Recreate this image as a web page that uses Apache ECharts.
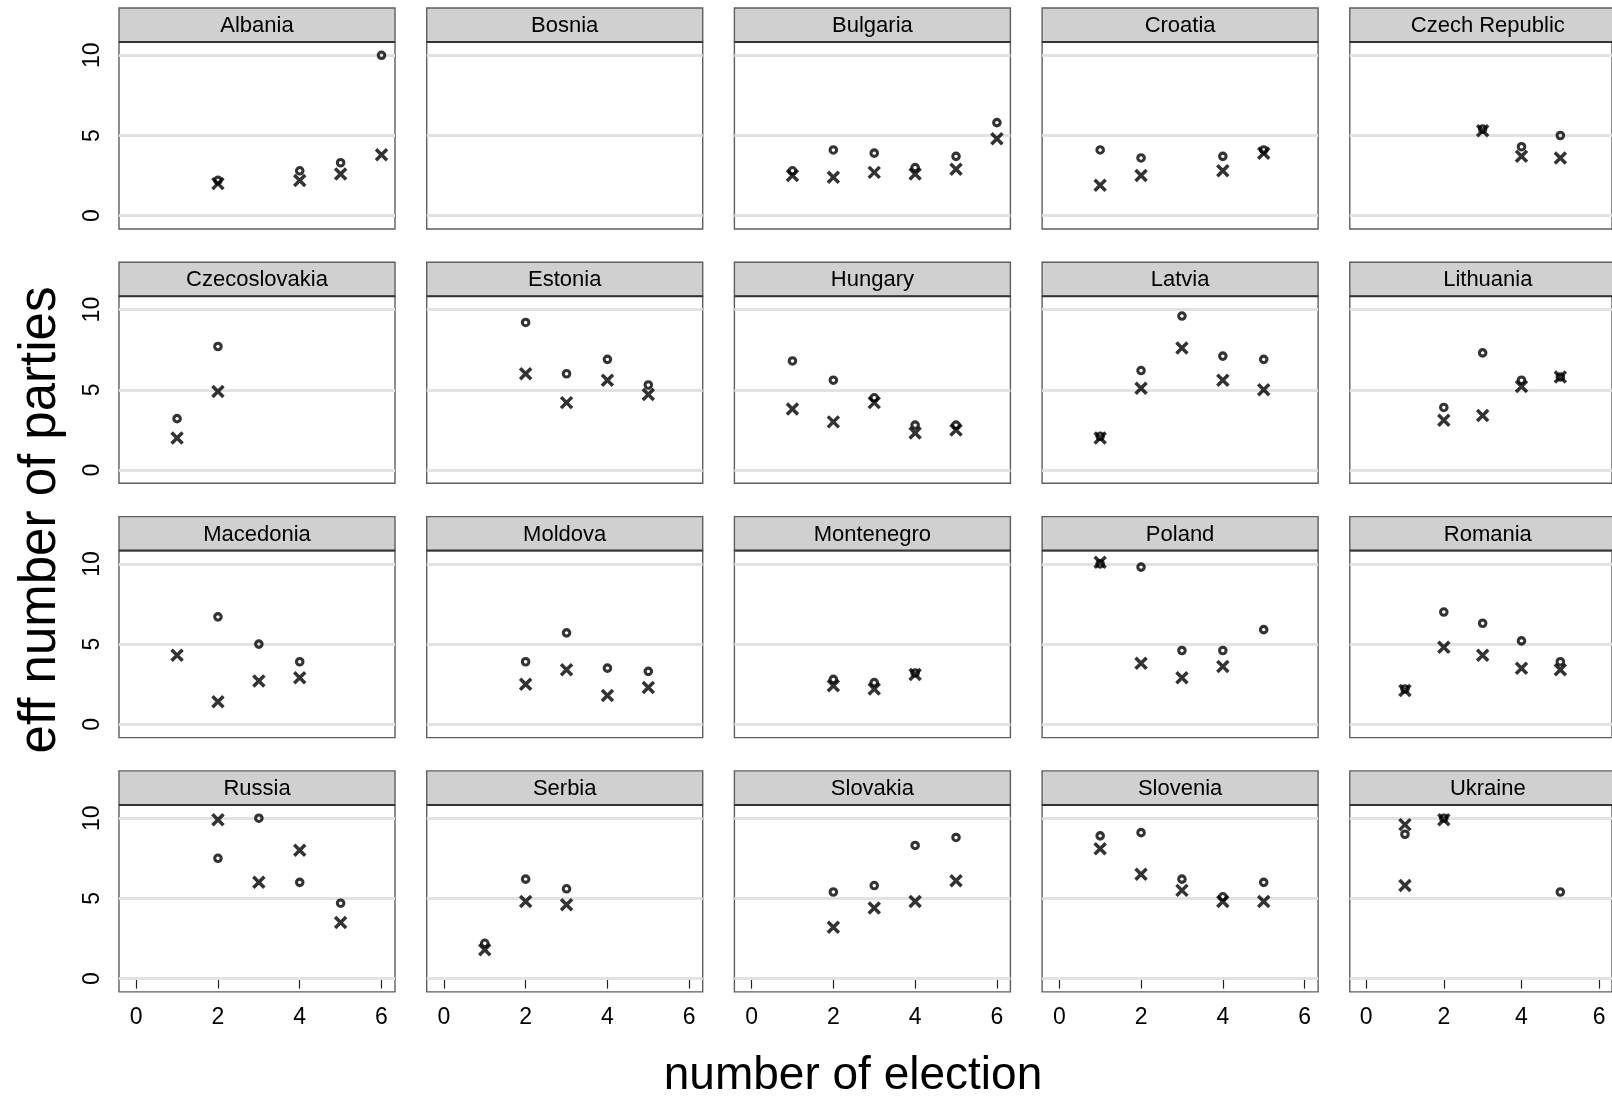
<!DOCTYPE html>
<html>
<head>
<meta charset="utf-8">
<script src="https://cdn.jsdelivr.net/npm/echarts@6/dist/echarts.min.js"></script>
<style>
html,body{margin:0;padding:0;background:#fff;}
#chart{width:1612px;height:1096px;}
</style>
</head>
<body>
<div id="chart"></div>
<script>
// ---- data ----
const countries = ["Albania","Bosnia","Bulgaria","Croatia","Czech Republic",
  "Czecoslovakia","Estonia","Hungary","Latvia","Lithuania",
  "Macedonia","Moldova","Montenegro","Poland","Romania",
  "Russia","Serbia","Slovakia","Slovenia","Ukraine"];
const xTicks = [0, 2, 4, 6];
const yTicks = [0, 5, 10];
// circles: [election number, value]
const circlePoints = [
  [[2,2.2],[4,2.8],[5,3.3],[6,10.0]],
  [],
  [[1,2.8],[2,4.1],[3,3.9],[4,3.0],[5,3.7],[6,5.8]],
  [[1,4.1],[2,3.6],[4,3.7],[5,4.1]],
  [[3,5.4],[4,4.3],[5,5.0]],
  [[1,3.2],[2,7.7]],
  [[2,9.2],[3,6.0],[4,6.9],[5,5.3]],
  [[1,6.8],[2,5.6],[3,4.5],[4,2.8],[5,2.8]],
  [[1,2.1],[2,6.2],[3,9.6],[4,7.1],[5,6.9]],
  [[2,3.9],[3,7.3],[4,5.6],[5,5.8]],
  [[2,6.7],[3,5.0],[4,3.9]],
  [[2,3.9],[3,5.7],[4,3.5],[5,3.3]],
  [[2,2.8],[3,2.6],[4,3.2]],
  [[1,10.0],[2,9.8],[3,4.6],[4,4.6],[5,5.9]],
  [[1,2.2],[2,7.0],[3,6.3],[4,5.2],[5,3.9]],
  [[2,7.5],[3,10.0],[4,6.0],[5,4.7]],
  [[1,2.2],[2,6.2],[3,5.6]],
  [[2,5.4],[3,5.8],[4,8.3],[5,8.8]],
  [[1,8.9],[2,9.1],[3,6.2],[4,5.1],[5,6.0]],
  [[1,9.0],[2,10.0],[5,5.4]]
];
// crosses: [election number, value]
const crossPoints = [
  [[2,2.0],[4,2.2],[5,2.6],[6,3.8]],
  [],
  [[1,2.5],[2,2.4],[3,2.7],[4,2.6],[5,2.9],[6,4.8]],
  [[1,1.9],[2,2.5],[4,2.8],[5,3.9]],
  [[3,5.3],[4,3.7],[5,3.6]],
  [[1,2.0],[2,4.9]],
  [[2,6.0],[3,4.2],[4,5.6],[5,4.7]],
  [[1,3.8],[2,3.0],[3,4.2],[4,2.3],[5,2.5]],
  [[1,2.0],[2,5.1],[3,7.6],[4,5.6],[5,5.0]],
  [[2,3.1],[3,3.4],[4,5.2],[5,5.8]],
  [[1,4.3],[2,1.4],[3,2.7],[4,2.9]],
  [[2,2.5],[3,3.4],[4,1.8],[5,2.3]],
  [[2,2.4],[3,2.2],[4,3.1]],
  [[1,10.1],[2,3.8],[3,2.9],[4,3.6]],
  [[1,2.1],[2,4.8],[3,4.3],[4,3.5],[5,3.4]],
  [[2,9.9],[3,6.0],[4,8.0],[5,3.5]],
  [[1,1.8],[2,4.8],[3,4.6]],
  [[2,3.2],[3,4.4],[4,4.8],[5,6.1]],
  [[1,8.1],[2,6.5],[3,5.5],[4,4.8],[5,4.8]],
  [[1,9.6],[1,5.8],[2,9.9]]
];
const yTitle = "eff number of parties";
const xTitle = "number of election";

// ---- layout ----
const FONT = "'Liberation Sans', Arial, Helvetica, sans-serif";
const NCOL = 5, NROW = 4;
const colLeft = c => 119 + c * 307.7;
const stripTop = r => 8 + r * 254.3;
const PW = 276, SH = 34, PH = 187;
const X_MIN = -0.42, X_MAX = 6.33, Y_MIN = -0.83, Y_MAX = 10.83;

const grids = [], xAxes = [], yAxes = [], series = [], graphics = [];
countries.forEach((name, i) => {
  const r = Math.floor(i / NCOL), c = i % NCOL;
  const left = colLeft(c), top = stripTop(r);
  const isBottom = r === NROW - 1, isLeft = c === 0;
  grids.push({left: left, top: top + SH, width: PW, height: PH,
    show: true, backgroundColor: '#fff', borderColor: '#5e5e5e', borderWidth: 1.4});
  xAxes.push({type: 'value', gridIndex: i, min: X_MIN, max: X_MAX,
    axisLine: {show: false}, splitLine: {show: false},
    axisTick: {show: isBottom, customValues: xTicks, length: 10, lineStyle: {color: '#222', width: 1.2}},
    axisLabel: {show: isBottom, customValues: xTicks, margin: 14, fontSize: 23, color: '#000', fontFamily: FONT}
  });
  yAxes.push({type: 'value', gridIndex: i, min: Y_MIN, max: Y_MAX,
    axisLine: {show: false}, splitLine: {show: false},
    axisTick: {show: isLeft, customValues: yTicks, length: 8, lineStyle: {color: '#222', width: 1.2}},
    axisLabel: {show: isLeft, customValues: yTicks, rotate: 90, margin: 15, fontSize: 23, color: '#000', fontFamily: FONT}
  });
  series.push({type: 'scatter', xAxisIndex: i, yAxisIndex: i, data: [], silent: true, z: 1,
    markLine: {silent: true, z: 1, symbol: ['none', 'none'], label: {show: false}, animation: false,
      lineStyle: {color: '#e2e2e2', width: 3, type: 'solid'},
      emphasis: {disabled: true},
      data: yTicks.map(v => ({yAxis: v}))}
  });
  series.push({type: 'scatter', xAxisIndex: i, yAxisIndex: i, data: crossPoints[i], silent: true, z: 3,
    symbol: 'path://M0,0L10,10M10,0L0,10', symbolSize: 11,
    itemStyle: {color: 'rgba(0,0,0,0)', borderColor: '#000', borderWidth: 3.5}
  });
  series.push({type: 'scatter', xAxisIndex: i, yAxisIndex: i, data: circlePoints[i], silent: true, z: 4,
    symbol: 'circle', symbolSize: 6.5,
    itemStyle: {color: 'rgba(0,0,0,0)', borderColor: '#000', borderWidth: 3.1}
  });
  graphics.push({type: 'rect', shape: {x: left, y: top, width: PW, height: SH},
    style: {fill: '#d0d0d0', stroke: '#5e5e5e', lineWidth: 1.4}, z: 10});
  graphics.push({type: 'line', shape: {x1: left, y1: top + SH, x2: left + PW, y2: top + SH},
    style: {stroke: '#333', lineWidth: 2}, z: 11});
  graphics.push({type: 'text', x: left + PW / 2, y: top + SH / 2 + 1, z: 12,
    style: {text: name, fontSize: 22, fontFamily: FONT, fill: '#000', textAlign: 'center', textVerticalAlign: 'middle'}});
});
graphics.push({type: 'text', x: 41, y: 520, rotation: Math.PI / 2, z: 12,
  style: {text: yTitle, fontSize: 51, fontFamily: FONT, fill: '#000', textAlign: 'center', textVerticalAlign: 'middle'}});
graphics.push({type: 'text', x: 853, y: 1076, z: 12,
  style: {text: xTitle, fontSize: 46, fontFamily: FONT, fill: '#000', textAlign: 'center', textVerticalAlign: 'middle'}});

const chart = echarts.init(document.getElementById('chart'), null, {renderer: 'canvas'});
chart.setOption({
  animation: false,
  backgroundColor: '#fff',
  grid: grids, xAxis: xAxes, yAxis: yAxes, series: series,
  graphic: {elements: graphics}
});
</script>
</body>
</html>
